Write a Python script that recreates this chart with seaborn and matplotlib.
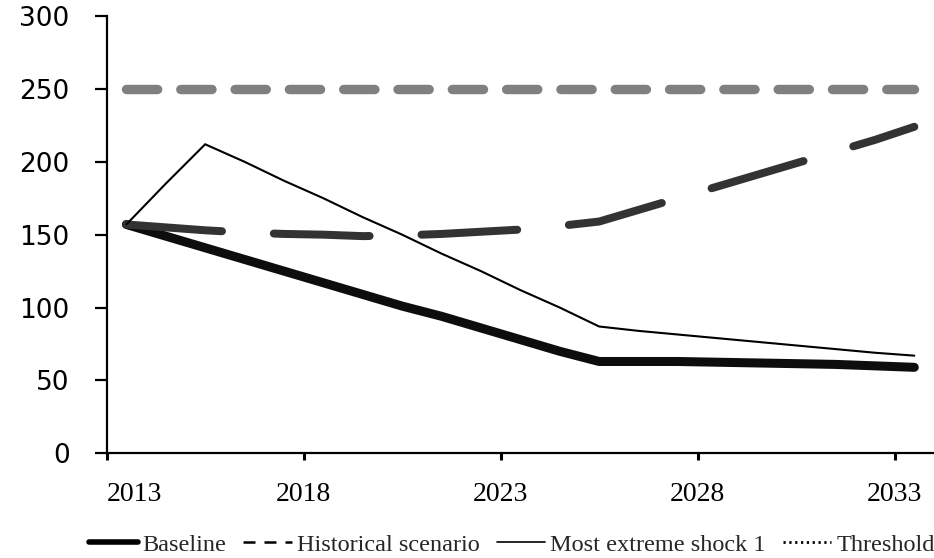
import numpy as np
import pandas as pd
import seaborn as sns
import matplotlib
matplotlib.use('Agg')
import matplotlib.pyplot as plt
from matplotlib.lines import Line2D

# Data
years = list(range(2013, 2034))
baseline = [157, 149, 141, 133, 125, 117, 109, 101, 94, 86, 78, 70, 63,
            63, 63, 62.5, 62, 61.5, 61, 60, 59]
historical = [157, 155, 153, 151.5, 150.5, 150, 149, 149.5, 150.5, 152, 153.5, 156, 159,
              167, 175, 183, 191, 199, 207, 215, 224]
extreme_shock = [157, 185, 212, 200, 187, 175, 162, 150, 137, 125, 112, 100, 87,
                 84, 81.5, 79, 76.5, 74, 71.5, 69, 67]
threshold = [250] * len(years)

tick_years = [2013, 2018, 2023, 2028, 2033]
y_ticks = [0, 50, 100, 150, 200, 250, 300]
legend_labels = ["Baseline", "Historical scenario", "Most extreme shock 1", "Threshold"]

sns.set_style("ticks")
plt.rcParams['font.family'] = ['DejaVu Sans']

fig = plt.figure(figsize=(9.34, 5.58), dpi=100)
ax = fig.add_axes([0.1142, 0.1876, 0.8858, 0.7837])

sns.lineplot(x=years, y=baseline, ax=ax, color='#0d0d0d', lw=6.5,
             solid_capstyle='round', solid_joinstyle='round')
sns.lineplot(x=years, y=historical, ax=ax, color='#333333', lw=5.75,
             linestyle=(0, (12, 6.5)), dash_capstyle='round', dash_joinstyle='round')
sns.lineplot(x=years, y=extreme_shock, ax=ax, color='black', lw=1.5,
             solid_joinstyle='miter')
sns.lineplot(x=years, y=threshold, ax=ax, color='#808080', lw=6.8,
             linestyle=(0, (3.3, 2.45)), dash_capstyle='round')

ax.set_xlim(2012.5, 2033.5)
ax.set_ylim(0, 300)
ax.set_yticks(y_ticks)
ax.set_yticklabels([str(v) for v in y_ticks], fontsize=19, family='DejaVu Sans')

# category boundaries carry the ticks, as in the original
ax.set_xticks([y - 0.5 for y in tick_years])
ax.set_xticklabels([str(y) for y in tick_years], fontsize=20, family='Liberation Serif')
ax.get_xticklabels()[0].set_horizontalalignment('left')

ax.tick_params(axis='y', direction='out', length=8.6, width=1.6, pad=18, colors='black')
ax.tick_params(axis='x', direction='out', length=5, width=2.2, pad=16, colors='black')
for side in ['left', 'bottom']:
    ax.spines[side].set_linewidth(1.6)
    ax.spines[side].set_color('black')
sns.despine(ax=ax)
ax.set_xlabel('')
ax.set_ylabel('')

handles = [
    Line2D([], [], color='black', lw=4),
    Line2D([], [], color='black', lw=1.8, linestyle=(0, (4.8, 3.6))),
    Line2D([], [], color='black', lw=1.2),
    Line2D([], [], color='black', lw=2, linestyle=(0, (0.8, 1.3))),
]
fig.legend(handles, legend_labels, loc='center', bbox_to_anchor=(0.548, 0.0233),
           ncol=4, frameon=False, handlelength=2.0, handletextpad=0.2,
           columnspacing=0.7, borderpad=0.1,
           prop={'family': 'Liberation Serif', 'size': 17.5})

fig.savefig('out.png', dpi=100)
